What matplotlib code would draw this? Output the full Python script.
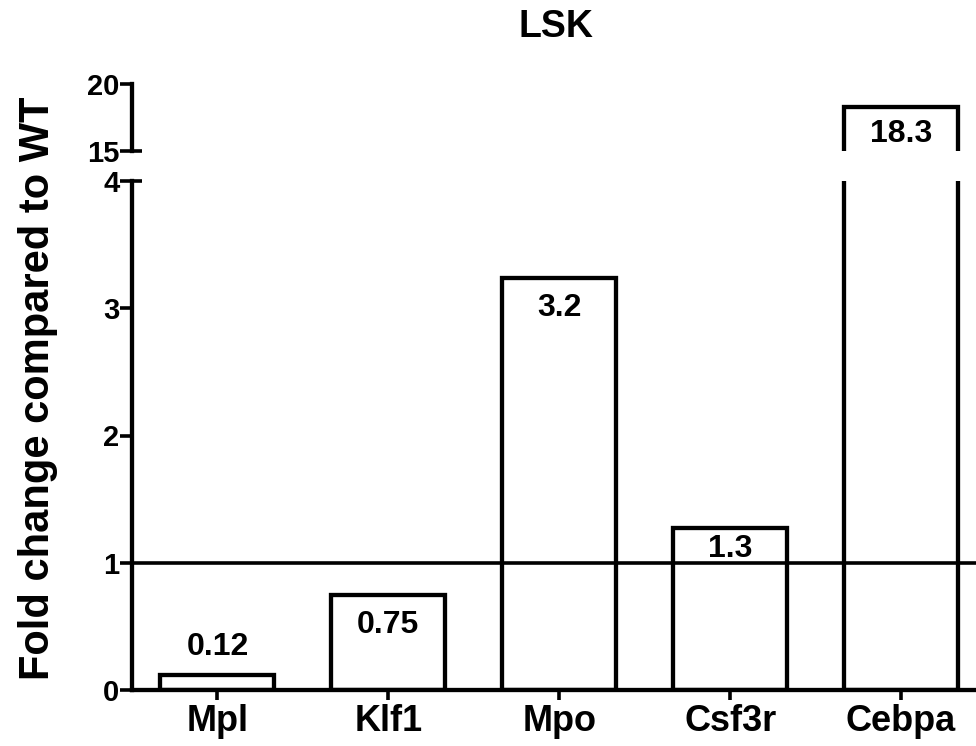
import matplotlib
matplotlib.use("Agg")
import matplotlib.pyplot as plt
import numpy as np

plt.rcParams['font.family'] = ['Liberation Sans', 'DejaVu Sans']
plt.rcParams['font.weight'] = 'bold'

# ---- data ----
genes = ["Mpl", "Klf1", "Mpo", "Csf3r", "Cebpa"]
fold_change = [0.12, 0.75, 3.24, 1.27, 18.3]
value_labels = ["0.12", "0.75", "3.2", "1.3", "18.3"]
lower_yticks = [0, 1, 2, 3, 4]
upper_yticks = [15, 20]
title = "LSK"
ylabel = "Fold change compared to WT"

# ---- style ----
W, H = 976, 746
fig = plt.figure(figsize=(W / 100, H / 100), dpi=100)
LW = 3.1
TW = 2.6
left = 132 / W
ax = fig.add_axes([left, 1 - 690 / H, 1 - left, (690 - 181) / H])
axu = fig.add_axes([left, 1 - 151 / H, 1 - left, (151 - 84) / H], sharex=ax)

x = np.arange(len(genes))
for a in (ax, axu):
    a.bar(x, fold_change, width=0.667, facecolor='white', edgecolor='black',
          linewidth=LW, zorder=2)
    a.set_facecolor('none')
    for s in ['top', 'right']:
        a.spines[s].set_visible(False)
    a.spines['left'].set_linewidth(LW)
    a.spines['bottom'].set_linewidth(LW)
    a.tick_params(axis='y', direction='out', length=9, width=TW,
                  labelsize=21, pad=0)

ax.set_ylim(0, 4)
ax.set_yticks(lower_yticks)
axu.set_ylim(15, 20)
axu.set_yticks(upper_yticks)
axu.spines['bottom'].set_visible(False)
axu.tick_params(axis='x', bottom=False, labelbottom=False)

ax.set_xlim(-0.5, (W - 217) / 171)
ax.set_xticks(x)
ax.set_xticklabels(genes)
ax.tick_params(axis='x', direction='out', length=7, width=TW,
               labelsize=26, pad=3)

ax.axhline(1, color='black', linewidth=TW, zorder=3)

# break marks
brk = 10 / (W - 132)
ax.plot([0, brk], [1, 1], transform=ax.transAxes, color='black',
        linewidth=TW, clip_on=False, solid_capstyle='butt')
axu.plot([0, brk], [0, 0], transform=axu.transAxes, color='black',
         linewidth=TW, clip_on=False, solid_capstyle='butt')

# value labels
offsets = [9, -11, -11, -4, -9]
for i, (v, lab, off) in enumerate(zip(fold_change, value_labels, offsets)):
    target = axu if v > 4 else ax
    target.annotate(lab, xy=(x[i], v), xytext=(0, off), textcoords='offset points',
                    ha='center', va='bottom' if off > 0 else 'top',
                    fontsize=23, fontweight='bold', zorder=4)

fig.text(556 / W, 1 - 27 / H, title, ha='center', va='center',
         fontsize=27, fontweight='bold')
fig.text(38 / W, 1 - 388 / H, ylabel, ha='center', va='center', rotation=90,
         fontsize=30, fontweight='bold')

fig.savefig("out.png", dpi=100)
